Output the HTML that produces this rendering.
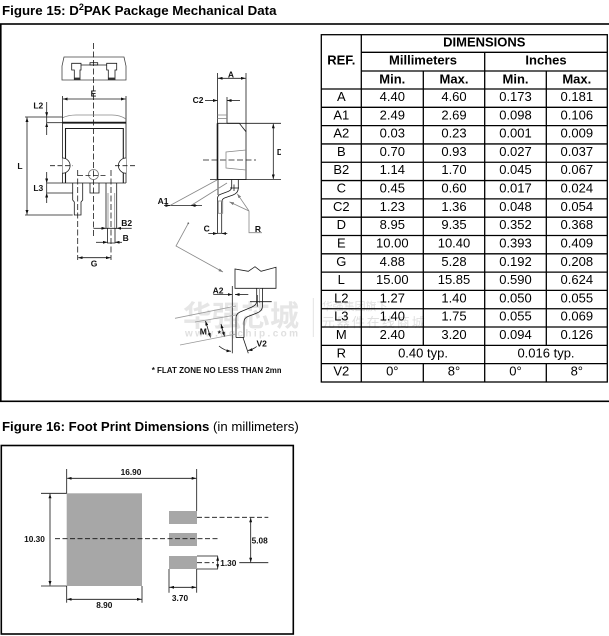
<!DOCTYPE html>
<html><head><meta charset="utf-8">
<style>
html,body{margin:0;padding:0;background:#fff;}
svg{display:block;}
text{font-family:"Liberation Sans",Arial,sans-serif;}
</style></head><body>
<svg width="609" height="636" viewBox="0 0 609 636" xmlns="http://www.w3.org/2000/svg">
<defs>
<marker id="ar" viewBox="0 0 6 4" refX="6" refY="2" markerWidth="4.5" markerHeight="3" markerUnits="userSpaceOnUse" orient="auto-start-reverse"><path d="M0,0 L6,2 L0,4 z" fill="#111"/></marker>
<marker id="ag" viewBox="0 0 6 4" refX="6" refY="2" markerWidth="4.5" markerHeight="3" markerUnits="userSpaceOnUse" orient="auto-start-reverse"><path d="M0,0 L6,2 L0,4 z" fill="#777"/></marker>
<clipPath id="clip"><rect x="0" y="24" width="281" height="378"/></clipPath>
</defs>

<!-- Title 15 -->
<text x="2" y="15" font-size="13.3" font-weight="bold" fill="#000">Figure 15: D<tspan font-size="9" dy="-5">2</tspan><tspan dy="5">PAK Package Mechanical Data</tspan></text>

<!-- frame 15 -->
<rect x="0.8" y="24" width="640" height="377.3" fill="none" stroke="#000" stroke-width="1.6"/>

<!-- watermark -->
<g fill="#e6e6e6" stroke="none">
<text x="183" y="326" font-size="29" font-weight="bold" style="font-family:'Liberation Sans','Noto Sans CJK SC',sans-serif">华强芯城</text>
<text x="185" y="336.5" font-size="10" font-weight="bold" letter-spacing="2.4" fill="#e0e0e0">www.hqchip.com</text>
<text x="321.7" y="310" font-size="11" style="font-family:'Liberation Sans','Noto Sans CJK SC',sans-serif" fill="#e0e0e0">华强集团旗下</text>
<text x="321.7" y="327" font-size="13" letter-spacing="2" style="font-family:'Liberation Sans','Noto Sans CJK SC',sans-serif" fill="#e0e0e0">元器件在线商城</text>
</g>
<line x1="313.3" y1="298" x2="313.3" y2="337" stroke="#e3e3e3" stroke-width="1"/>

<!-- drawing -->
<g clip-path="url(#clip)">
<g stroke="#1a1a1a" stroke-width="0.8" fill="none">
<!-- top view -->
<path d="M64,57H124L126,66V80H62V66Z" stroke="#444"/>
<path d="M74.3,80V70H71.7V63.3H81V70H80V80"/>
<path d="M108.3,80V70H106.7V63.3H116.7V70H115V80"/>
<line x1="81" y1="65" x2="106.7" y2="65"/>
<rect x="90" y="62.7" width="7.7" height="2.3"/>
<rect x="74.3" y="77.6" width="5.7" height="2.4" fill="#333" stroke="none"/>
<rect x="108.3" y="77.6" width="6.7" height="2.4" fill="#333" stroke="none"/>
<line x1="93.5" y1="43" x2="93.5" y2="236" stroke-dasharray="6,2.5"/>

<!-- E -->
<line x1="62.5" y1="96" x2="62.5" y2="117"/>
<line x1="126" y1="96" x2="126" y2="119"/>
<line x1="63" y1="99" x2="125.5" y2="99" marker-start="url(#ar)" marker-end="url(#ar)"/>

<!-- front body -->
<path d="M62,118 Q68,115 76,115 H112 Q120,115 126,119" stroke="#888"/>
<line x1="62.5" y1="117" x2="62.5" y2="183"/>
<line x1="126" y1="119" x2="126" y2="183"/>
<line x1="62.5" y1="122.7" x2="126" y2="122.7" stroke-width="1.8"/>
<path d="M65.5,183 V128.5 H123.3 V183" stroke-width="1.1"/>
<line x1="47" y1="183" x2="126" y2="183"/>
<path d="M62.5,158 A7.5,7.5 0 0 1 62.5,173.2" fill="#fff"/>
<path d="M126,158 A7.5,7.5 0 0 0 126,173.2" fill="#fff"/>
<line x1="50" y1="165.7" x2="73" y2="165.7" stroke-dasharray="5,2.5"/>
<line x1="115" y1="165.7" x2="137" y2="165.7" stroke-dasharray="5,2.5"/>
<circle cx="93.5" cy="174.5" r="5" stroke="#777"/>
<line x1="78" y1="175.5" x2="107" y2="175.5" stroke-dasharray="5,2.5"/>
<line x1="77.7" y1="170" x2="77.7" y2="260" stroke-dasharray="6,2.5"/>
<line x1="111" y1="170" x2="111" y2="260" stroke-dasharray="6,2.5"/>

<!-- leads front -->
<line x1="47" y1="193" x2="72.7" y2="193"/>
<path d="M90,183 V193 H99 V183"/>
<path d="M72.7,183 V200 L74.3,202 V215 H81 V202 L82.7,200 V183"/>
<path d="M106,183 V228.3 H116.7 V183"/>
<path d="M107.5,228.3 V243 H115 V228.3"/>
<line x1="108" y1="193" x2="108" y2="228" stroke="#888"/>
<line x1="114.7" y1="193" x2="114.7" y2="228" stroke="#888"/>

<!-- L -->
<line x1="27" y1="117.5" x2="27" y2="214.5" marker-start="url(#ar)" marker-end="url(#ar)"/>
<line x1="25" y1="117" x2="62" y2="117"/>
<line x1="25" y1="215" x2="72.7" y2="215"/>
<!-- L2 -->
<line x1="46.7" y1="102" x2="46.7" y2="116.7" marker-end="url(#ar)"/>
<line x1="46.7" y1="135" x2="46.7" y2="122.7" marker-end="url(#ar)"/>
<line x1="46.7" y1="116.7" x2="46.7" y2="122.7"/>
<line x1="46.7" y1="122.7" x2="62.5" y2="122.7"/>
<!-- L3 -->
<line x1="46.7" y1="172" x2="46.7" y2="183" marker-end="url(#ar)"/>
<line x1="46.7" y1="203" x2="46.7" y2="193" marker-end="url(#ar)"/>
<line x1="46.7" y1="183" x2="46.7" y2="193"/>
<!-- B2 / B / G -->
<line x1="93.5" y1="228.3" x2="106" y2="228.3" marker-end="url(#ar)"/>
<line x1="131.7" y1="228.3" x2="116.7" y2="228.3" marker-end="url(#ar)"/>
<line x1="96" y1="242.3" x2="107.5" y2="242.3" marker-end="url(#ar)"/>
<line x1="122" y1="242.3" x2="115" y2="242.3" marker-end="url(#ar)"/>
<line x1="78.2" y1="257.7" x2="110.5" y2="257.7" marker-start="url(#ar)" marker-end="url(#ar)"/>

<!-- side view -->
<line x1="217.5" y1="73" x2="217.5" y2="123.3"/>
<line x1="246" y1="73" x2="246" y2="131.7"/>
<line x1="218" y1="78.3" x2="245.5" y2="78.3" marker-start="url(#ar)" marker-end="url(#ar)"/>
<line x1="227" y1="97" x2="227" y2="123.3"/>
<line x1="217.5" y1="115" x2="227" y2="115" stroke="#888"/>
<line x1="217.5" y1="118.5" x2="227" y2="118.5" stroke="#888"/>
<line x1="205" y1="100.5" x2="217.5" y2="100.5" marker-end="url(#ar)"/>
<line x1="240" y1="100.5" x2="227" y2="100.5" marker-end="url(#ar)"/>
<path d="M217.5,123.3 H239.3 L246,131.7 V179.5 H217.5 Z"/>
<line x1="217.5" y1="123.3" x2="217.5" y2="179.5" stroke-width="1.6"/>
<line x1="227" y1="123.3" x2="281" y2="123.3"/>
<line x1="210" y1="179.5" x2="281" y2="179.5"/>
<line x1="273.3" y1="123.8" x2="273.3" y2="179" marker-start="url(#ar)" marker-end="url(#ar)"/>
<line x1="203" y1="160" x2="256" y2="160" stroke-dasharray="6,2.5"/>
<path d="M246,150 L226,152 V168 L246,170" stroke="#888"/>
<path d="M231.7,179.5 V187 Q231.7,190 228,191.5 L220,194.5 Q217.5,195.5 217.5,199 V233.3"/>
<path d="M238.3,179.5 V188 Q238.3,193 233,195 L224.5,198 Q221.7,199 221.7,203 V233.3"/>
<line x1="217.5" y1="233.3" x2="221.7" y2="233.3"/>
<line x1="218" y1="179.5" x2="218" y2="195"/>
<rect x="218.3" y="201" width="4.4" height="12.3" stroke="#888"/>
<line x1="230" y1="188" x2="239" y2="188"/>
<line x1="234" y1="184.5" x2="234" y2="191"/>
<!-- A1 -->
<line x1="168" y1="205.5" x2="202" y2="205.5"/>
<line x1="170" y1="205.5" x2="217" y2="180" stroke="#888"/>
<line x1="191" y1="205.5" x2="227" y2="183" stroke="#888"/>
<line x1="164" y1="205.5" x2="170" y2="205.5" marker-end="url(#ar)"/>
<line x1="197" y1="205.5" x2="191" y2="205.5" marker-end="url(#ar)"/>
<!-- R -->
<path d="M249,211 L229.5,201.9" stroke="#888" marker-end="url(#ag)"/>
<path d="M249,211 L237.3,193.8" stroke="#888" marker-end="url(#ag)"/>
<path d="M249,211 V232.7 H262" stroke="#888"/>
<!-- C -->
<line x1="208.3" y1="233.5" x2="217.5" y2="233.5" marker-end="url(#ar)"/>
<line x1="227.3" y1="233.5" x2="221.7" y2="233.5" marker-end="url(#ar)"/>
<!-- leader -->
<path d="M188.3,223.3 L176,246 L223,272" stroke="#888" marker-end="url(#ag)"/>
<circle cx="188.3" cy="223.3" r="0.9" fill="#666" stroke="none"/>

<!-- detail -->
<path d="M235,288.3 V269 L248.3,271.3 L255,266.7 L261,271.3 L276,267.3 V288.3 Z"/>
<path d="M256.7,288.3 V301 Q256.7,305 252,307 L240,312 Q236,314 236,318 V337.5"/>
<path d="M262.5,288.3 V306 Q262.5,311 257,313 L248,316.5 Q244,318 244,322 V337.5"/>
<line x1="236" y1="337.5" x2="244" y2="337.5"/>
<line x1="259.5" y1="288.3" x2="259.5" y2="303" stroke="#888"/>
<line x1="250" y1="301.7" x2="271.7" y2="301.7"/>
<line x1="257.3" y1="295" x2="257.3" y2="306.7"/>
<line x1="232.3" y1="286" x2="232.3" y2="353.3"/>
<line x1="213.3" y1="294.5" x2="232.3" y2="294.5" marker-end="url(#ar)"/>
<line x1="248.3" y1="294.5" x2="235" y2="294.5" marker-end="url(#ar)"/>
<line x1="175" y1="318.3" x2="236" y2="306" stroke="#999"/>
<line x1="195" y1="322" x2="236" y2="315" stroke="#999"/>
<line x1="180" y1="345" x2="236" y2="334" stroke="#999"/>
<line x1="205.5" y1="321" x2="210.5" y2="337.5" marker-start="url(#ar)" marker-end="url(#ar)"/>
<line x1="221" y1="324" x2="224.5" y2="336.5" marker-start="url(#ar)" marker-end="url(#ar)"/>
<path d="M219,346 Q224,350.5 231,351.3" marker-end="url(#ar)"/>
<path d="M248,350.5 Q253,349.5 256.7,346.5" marker-start="url(#ar)"/>
<line x1="243" y1="337.5" x2="248.3" y2="353.3"/>
</g>

<!-- labels -->
<g font-size="8.5" font-weight="bold" fill="#111" text-anchor="middle">
<text x="93.5" y="96.5">E</text>
<text x="38.3" y="108.5">L2</text>
<text x="20" y="169">L</text>
<text x="38.3" y="191">L3</text>
<text x="126.7" y="226">B2</text>
<text x="125.7" y="241">B</text>
<text x="94" y="266.5">G</text>
<text x="231" y="77.3">A</text>
<text x="198" y="103">C2</text>
<text x="280" y="155">D</text>
<text x="163" y="204">A1</text>
<text x="206.7" y="231.5">C</text>
<text x="258" y="232">R</text>
<text x="218" y="293.3">A2</text>
<text x="203.3" y="334.5">M</text>
<text x="219.3" y="336.5">*</text>
<text x="261.7" y="346.5">V2</text>
</g>
<text x="151.7" y="373" font-size="8" font-weight="bold" fill="#111" letter-spacing="0">* FLAT ZONE NO LESS THAN 2mm</text>
</g>

<!-- table -->
<g stroke="#000" stroke-width="1.3" fill="none">
<rect x="321.3" y="34.7" width="286" height="347.3"/>
<line x1="361.3" y1="52.3" x2="607.3" y2="52.3"/>
<line x1="361.3" y1="71" x2="607.3" y2="71"/>
<line x1="321.3" y1="89" x2="607.3" y2="89"/>
<line x1="321.3" y1="107.31" x2="607.3" y2="107.31"/>
<line x1="321.3" y1="125.62" x2="607.3" y2="125.62"/>
<line x1="321.3" y1="143.93" x2="607.3" y2="143.93"/>
<line x1="321.3" y1="162.24" x2="607.3" y2="162.24"/>
<line x1="321.3" y1="180.55" x2="607.3" y2="180.55"/>
<line x1="321.3" y1="198.86" x2="607.3" y2="198.86"/>
<line x1="321.3" y1="217.17" x2="607.3" y2="217.17"/>
<line x1="321.3" y1="235.48" x2="607.3" y2="235.48"/>
<line x1="321.3" y1="253.79" x2="607.3" y2="253.79"/>
<line x1="321.3" y1="272.1" x2="607.3" y2="272.1"/>
<line x1="321.3" y1="290.41" x2="607.3" y2="290.41"/>
<line x1="321.3" y1="308.72" x2="607.3" y2="308.72"/>
<line x1="321.3" y1="327.03" x2="607.3" y2="327.03"/>
<line x1="321.3" y1="345.34" x2="607.3" y2="345.34"/>
<line x1="321.3" y1="363.65" x2="607.3" y2="363.65"/>
<line x1="361.3" y1="34.7" x2="361.3" y2="382"/>
<line x1="484.7" y1="52.3" x2="484.7" y2="382"/>
<line x1="423.3" y1="71" x2="423.3" y2="345.34"/>
<line x1="546.3" y1="71" x2="546.3" y2="345.34"/>
<line x1="423.3" y1="363.65" x2="423.3" y2="382"/>
<line x1="546.3" y1="363.65" x2="546.3" y2="382"/>
</g>
<g font-size="13" fill="#000" text-anchor="middle" font-weight="bold">
<text x="484.3" y="46.5">DIMENSIONS</text>
<text x="341.3" y="64.3">REF.</text>
<text x="423" y="64.3">Millimeters</text>
<text x="546" y="64.3">Inches</text>
<text x="392.3" y="83.3">Min.</text>
<text x="454" y="83.3">Max.</text>
<text x="515.5" y="83.3">Min.</text>
<text x="576.8" y="83.3">Max.</text>
</g>
<g font-size="13" fill="#000" text-anchor="middle">
<text x="341.3" y="101">A</text><text x="392.3" y="101">4.40</text><text x="454" y="101">4.60</text><text x="515.5" y="101">0.173</text><text x="576.8" y="101">0.181</text>
<text x="341.3" y="119.3">A1</text><text x="392.3" y="119.3">2.49</text><text x="454" y="119.3">2.69</text><text x="515.5" y="119.3">0.098</text><text x="576.8" y="119.3">0.106</text>
<text x="341.3" y="137.6">A2</text><text x="392.3" y="137.6">0.03</text><text x="454" y="137.6">0.23</text><text x="515.5" y="137.6">0.001</text><text x="576.8" y="137.6">0.009</text>
<text x="341.3" y="155.9">B</text><text x="392.3" y="155.9">0.70</text><text x="454" y="155.9">0.93</text><text x="515.5" y="155.9">0.027</text><text x="576.8" y="155.9">0.037</text>
<text x="341.3" y="174.2">B2</text><text x="392.3" y="174.2">1.14</text><text x="454" y="174.2">1.70</text><text x="515.5" y="174.2">0.045</text><text x="576.8" y="174.2">0.067</text>
<text x="341.3" y="192.5">C</text><text x="392.3" y="192.5">0.45</text><text x="454" y="192.5">0.60</text><text x="515.5" y="192.5">0.017</text><text x="576.8" y="192.5">0.024</text>
<text x="341.3" y="210.9">C2</text><text x="392.3" y="210.9">1.23</text><text x="454" y="210.9">1.36</text><text x="515.5" y="210.9">0.048</text><text x="576.8" y="210.9">0.054</text>
<text x="341.3" y="229.2">D</text><text x="392.3" y="229.2">8.95</text><text x="454" y="229.2">9.35</text><text x="515.5" y="229.2">0.352</text><text x="576.8" y="229.2">0.368</text>
<text x="341.3" y="247.5">E</text><text x="392.3" y="247.5">10.00</text><text x="454" y="247.5">10.40</text><text x="515.5" y="247.5">0.393</text><text x="576.8" y="247.5">0.409</text>
<text x="341.3" y="265.8">G</text><text x="392.3" y="265.8">4.88</text><text x="454" y="265.8">5.28</text><text x="515.5" y="265.8">0.192</text><text x="576.8" y="265.8">0.208</text>
<text x="341.3" y="284.1">L</text><text x="392.3" y="284.1">15.00</text><text x="454" y="284.1">15.85</text><text x="515.5" y="284.1">0.590</text><text x="576.8" y="284.1">0.624</text>
<text x="341.3" y="302.4">L2</text><text x="392.3" y="302.4">1.27</text><text x="454" y="302.4">1.40</text><text x="515.5" y="302.4">0.050</text><text x="576.8" y="302.4">0.055</text>
<text x="341.3" y="320.7">L3</text><text x="392.3" y="320.7">1.40</text><text x="454" y="320.7">1.75</text><text x="515.5" y="320.7">0.055</text><text x="576.8" y="320.7">0.069</text>
<text x="341.3" y="339">M</text><text x="392.3" y="339">2.40</text><text x="454" y="339">3.20</text><text x="515.5" y="339">0.094</text><text x="576.8" y="339">0.126</text>
<text x="341.3" y="357.3">R</text><text x="423" y="357.3">0.40 typ.</text><text x="546" y="357.3">0.016 typ.</text>
<text x="341.3" y="375.6">V2</text><text x="392.3" y="375.6">0°</text><text x="454" y="375.6">8°</text><text x="515.5" y="375.6">0°</text><text x="576.8" y="375.6">8°</text>
</g>

<!-- Title 16 -->
<text x="2" y="431" font-size="13.2" fill="#000"><tspan font-weight="bold">Figure 16: Foot Print Dimensions</tspan> (in millimeters)</text>

<!-- Figure 16 -->
<rect x="1.3" y="445.5" width="292" height="188.5" fill="none" stroke="#000" stroke-width="1.6"/>
<g fill="#a7a7a7">
<rect x="66.7" y="493.3" width="75.3" height="92.7"/>
<rect x="169" y="511" width="28" height="13"/>
<rect x="169" y="533" width="28" height="13"/>
<rect x="169" y="556" width="28" height="13"/>
</g>
<g stroke="#111" stroke-width="0.8" fill="none">
<line x1="66.7" y1="469" x2="66.7" y2="493.3"/>
<line x1="196.7" y1="469" x2="196.7" y2="511"/>
<line x1="67.2" y1="478.3" x2="196.2" y2="478.3" marker-start="url(#ar)" marker-end="url(#ar)"/>
<line x1="41" y1="493.3" x2="66.7" y2="493.3"/>
<line x1="41" y1="586" x2="66.7" y2="586"/>
<line x1="50" y1="493.8" x2="50" y2="585.5" marker-start="url(#ar)" marker-end="url(#ar)"/>
<line x1="55" y1="538.7" x2="218.3" y2="538.7" stroke-dasharray="5,2.5"/>
<line x1="197" y1="517.3" x2="268.3" y2="517.3" stroke-dasharray="5,2.5"/>
<line x1="250.7" y1="517.8" x2="250.7" y2="562.2" marker-start="url(#ar)" marker-end="url(#ar)"/>
<line x1="197" y1="556" x2="218" y2="556"/>
<line x1="197" y1="569" x2="218" y2="569"/>
<line x1="197" y1="562.7" x2="214" y2="562.7" stroke-dasharray="5,2.5"/>
<line x1="217.7" y1="556.3" x2="217.7" y2="568.7" marker-start="url(#ar)" marker-end="url(#ar)"/>
<line x1="239.3" y1="562.7" x2="268.3" y2="562.7"/>
<line x1="169" y1="569" x2="169" y2="592.7"/>
<line x1="196.7" y1="569" x2="196.7" y2="592.7"/>
<line x1="169.5" y1="587.3" x2="196.2" y2="587.3" marker-start="url(#ar)" marker-end="url(#ar)"/>
<line x1="66.7" y1="586" x2="66.7" y2="602.7"/>
<line x1="142" y1="586" x2="142" y2="602.7"/>
<line x1="67.2" y1="599.3" x2="141.5" y2="599.3" marker-start="url(#ar)" marker-end="url(#ar)"/>
</g>
<g font-size="8.3" font-weight="bold" fill="#111" text-anchor="middle">
<text x="131" y="475">16.90</text>
<text x="34.5" y="542">10.30</text>
<text x="259.7" y="543.5">5.08</text>
<text x="228.3" y="566">1.30</text>
<text x="180" y="601">3.70</text>
<text x="104.3" y="608">8.90</text>
</g>
</svg>
</body></html>
